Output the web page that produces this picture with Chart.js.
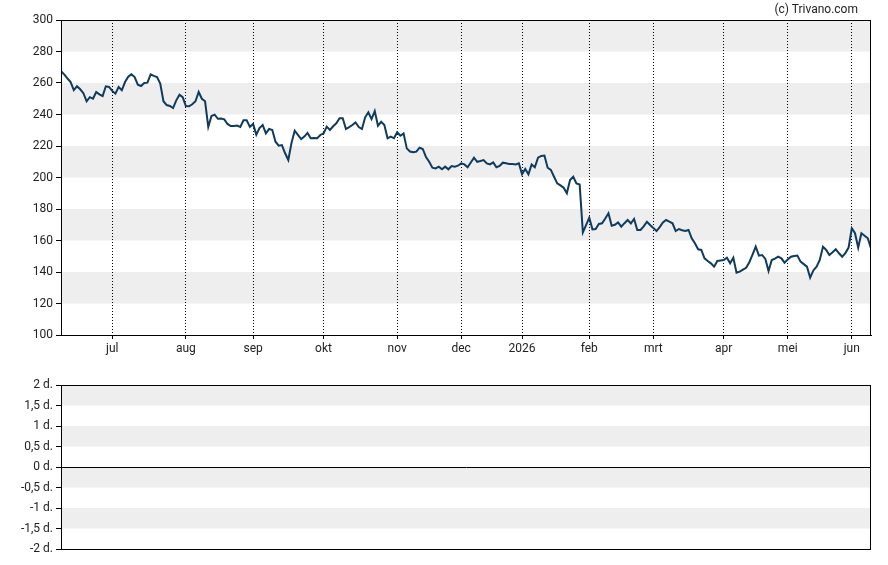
<!DOCTYPE html>
<html>
<head>
<meta charset="utf-8">
<script src="https://cdn.jsdelivr.net/npm/chart.js@4"></script>
<style>
  body { margin: 0; background: #fff; }
  #wrap { position: relative; width: 888px; height: 565px; font-family: Roboto, sans-serif; }
  #koers { position: absolute; left: 0; top: 0; }
  #duur { position: absolute; left: 0; top: 370px; }
  #copy { position: absolute; right: 30px; top: 2px; font-size: 12px; color: #222; }
</style>
</head>
<body>
<div id="wrap">
  <canvas id="koers" width="888" height="360"></canvas>
  <canvas id="duur" width="888" height="195"></canvas>
  <div id="copy">(c) Trivano.com</div>
</div>
<script>
// maandlabels en de index (handelsdag) waarop elke maand begint
const maanden = ['jul', 'aug', 'sep', 'okt', 'nov', 'dec', '2026', 'feb', 'mrt', 'apr', 'mei', 'jun'];
const maandStart = [16, 39, 60, 82, 105, 125, 144, 165, 185, 207, 227, 247];

// slotkoersen per handelsdag
const koersen = [
  267.4, 265.5, 263, 260.6, 255.5, 257.9, 256, 253.5, 248.4, 251,
  250, 254.3, 252.8, 251.7, 257.9, 257.5, 255, 253.2, 257.5, 255.4,
  260.6, 264, 265.5, 263.8, 258.9, 258.1, 260, 260.2, 265.5, 264.5,
  263.8, 259.6, 248.4, 246, 245.4, 244.1, 249, 252.6, 251, 245.4,
  245.2, 246.5, 248.4, 254.3, 250, 248.4, 232.1, 239, 239.9, 237.3,
  237.5, 236.9, 234, 232.7, 232.7, 233, 232.1, 236.3, 236.3, 232.1,
  234, 227.2, 231.4, 233.3, 228, 230.8, 230.2, 222.7, 220.2, 220.6,
  215.4, 211.1, 222, 229.7, 227, 224.4, 226, 228.3, 224.9, 225,
  224.9, 227, 228, 232.3, 230.2, 232.5, 234.4, 237.6, 237.6, 230.8,
  232, 233.3, 235, 232, 230.8, 238.2, 241.4, 237.1, 242.2, 232.9,
  235.4, 233.3, 224.9, 225.9, 224.9, 228.7, 226.5, 228, 218.5, 216.5,
  216, 216.4, 218.9, 218.1, 213, 210, 206.2, 205.8, 206.9, 205.2,
  206.9, 205.2, 207.3, 206.9, 207.5, 209, 208.3, 206.5, 209.5, 212.6,
  210, 210.5, 211.1, 209, 208.3, 209.6, 206.5, 207.3, 209.4, 209,
  208.6, 208.5, 208.3, 209, 202, 205.4, 202, 208.3, 206.5, 212.6,
  213.7, 213.9, 206.2, 204.8, 200.5, 196.3, 195, 193.5, 190, 198.4,
  200.5, 196.3, 195.6, 165.2, 169.8, 174.5, 167.1, 167.3, 170.5, 170.9,
  174, 177.3, 169.4, 170, 171.5, 168.8, 171, 173, 170.9, 173.7,
  166.7, 166.7, 169, 171.9, 169.8, 168, 166, 168.5, 171.5, 173,
  172, 170.9, 166, 167.3, 166.5, 166, 166.7, 161.4, 158.2, 154.4,
  154, 148.7, 147, 145.5, 143.4, 147, 147.3, 147.6, 149.1, 145.5,
  149.1, 139.6, 140.2, 141.5, 142.7, 146.2, 151, 156.1, 150.4, 150.8,
  148.3, 140.6, 147.6, 148.5, 149.7, 148.7, 145.9, 148, 149.7, 150.2,
  150.4, 146.6, 145, 143.4, 136.4, 141, 143.4, 147.6, 156.1, 154,
  150.8, 152.5, 154.4, 151.9, 149.7, 152, 155.5, 167.8, 164.6, 155.5,
  164.6, 163, 161.4, 155
];

// grijze banden op de achtergrond
const koersBanden = [[280, 300], [240, 260], [200, 220], [160, 180], [120, 140]];
const duurBanden = [[1.5, 2], [0.5, 1], [-0.5, 0], [-1.5, -1]];

const zwart = '#000';
const lijnKleur = '#0e3b5e';
const tekstKleur = '#222';
const fontje = { family: 'Roboto, sans-serif', size: 12 };

const achtergrond = {
  id: 'achtergrond',
  beforeDraw(chart, args, opts) {
    const { ctx, chartArea: a, scales: { y } } = chart;
    ctx.save();
    ctx.fillStyle = '#eeeeee';
    (opts.banden || []).forEach(b => {
      const y1 = y.getPixelForValue(b[1]);
      const y0 = y.getPixelForValue(b[0]);
      ctx.fillRect(a.left, y1, a.right - a.left, y0 - y1);
    });
    ctx.restore();
  },
  afterDraw(chart) {
    const { ctx, chartArea: a } = chart;
    ctx.save();
    ctx.setLineDash([]);
    ctx.strokeStyle = zwart;
    ctx.lineWidth = 1;
    ctx.strokeRect(a.left + 0.5, a.top + 0.5, a.right - a.left - 1, a.bottom - a.top);
    ctx.restore();
  }
};

Chart.defaults.animation = false;

new Chart(document.getElementById('koers'), {
  type: 'line',
  data: {
    datasets: [{
      data: koersen.map((v, i) => ({ x: i, y: v })),
      borderColor: lijnKleur,
      borderWidth: 2,
      pointRadius: 0,
      tension: 0
    }]
  },
  options: {
    responsive: false,
    layout: { padding: { top: 20, right: 17, left: 0, bottom: 0 } },
    plugins: {
      legend: { display: false },
      tooltip: { enabled: false },
      achtergrond: { banden: koersBanden }
    },
    scales: {
      x: {
        type: 'linear',
        min: 0,
        max: koersen.length - 1,
        afterBuildTicks: s => { s.ticks = maandStart.map(v => ({ value: v })); },
        afterFit: s => { s.height = 25; },
        ticks: {
          autoSkip: false,
          maxRotation: 0,
          padding: 3,
          color: tekstKleur,
          font: fontje,
          callback: v => maanden[maandStart.indexOf(v)]
        },
        grid: {
          color: zwart,
          tickBorderDash: [],
          tickLength: 4,
          tickColor: zwart
        },
        border: { display: true, color: zwart, dash: [1, 2] }
      },
      y: {
        min: 100,
        max: 300,
        afterFit: s => { s.width = 61; },
        ticks: { stepSize: 20, padding: 3, color: tekstKleur, font: fontje },
        grid: { drawOnChartArea: false, tickLength: 5, tickColor: zwart },
        border: { display: true, color: zwart }
      }
    }
  },
  plugins: [achtergrond]
});

new Chart(document.getElementById('duur'), {
  type: 'line',
  data: { datasets: [{ data: [] }] },
  options: {
    responsive: false,
    layout: { padding: { top: 15, right: 17, left: 0, bottom: 16 } },
    plugins: {
      legend: { display: false },
      tooltip: { enabled: false },
      achtergrond: { banden: duurBanden }
    },
    scales: {
      x: { type: 'linear', min: 0, max: 1, display: false },
      y: {
        min: -2,
        max: 2,
        afterFit: s => { s.width = 61; },
        afterBuildTicks: s => {
          const t = [];
          for (let v = -2; v <= 2; v += 0.5) t.push({ value: v });
          s.ticks = t;
        },
        ticks: {
          padding: 3,
          color: tekstKleur,
          font: fontje,
          callback: v => String(v).replace('.', ',') + ' d.'
        },
        grid: {
          color: c => (c.tick && Math.abs(c.tick.value) < 1e-9 ? zwart : 'rgba(0,0,0,0)'),
          tickColor: zwart,
          tickLength: 5
        },
        border: { display: true, color: zwart }
      }
    }
  },
  plugins: [achtergrond]
});
</script>
</body>
</html>
